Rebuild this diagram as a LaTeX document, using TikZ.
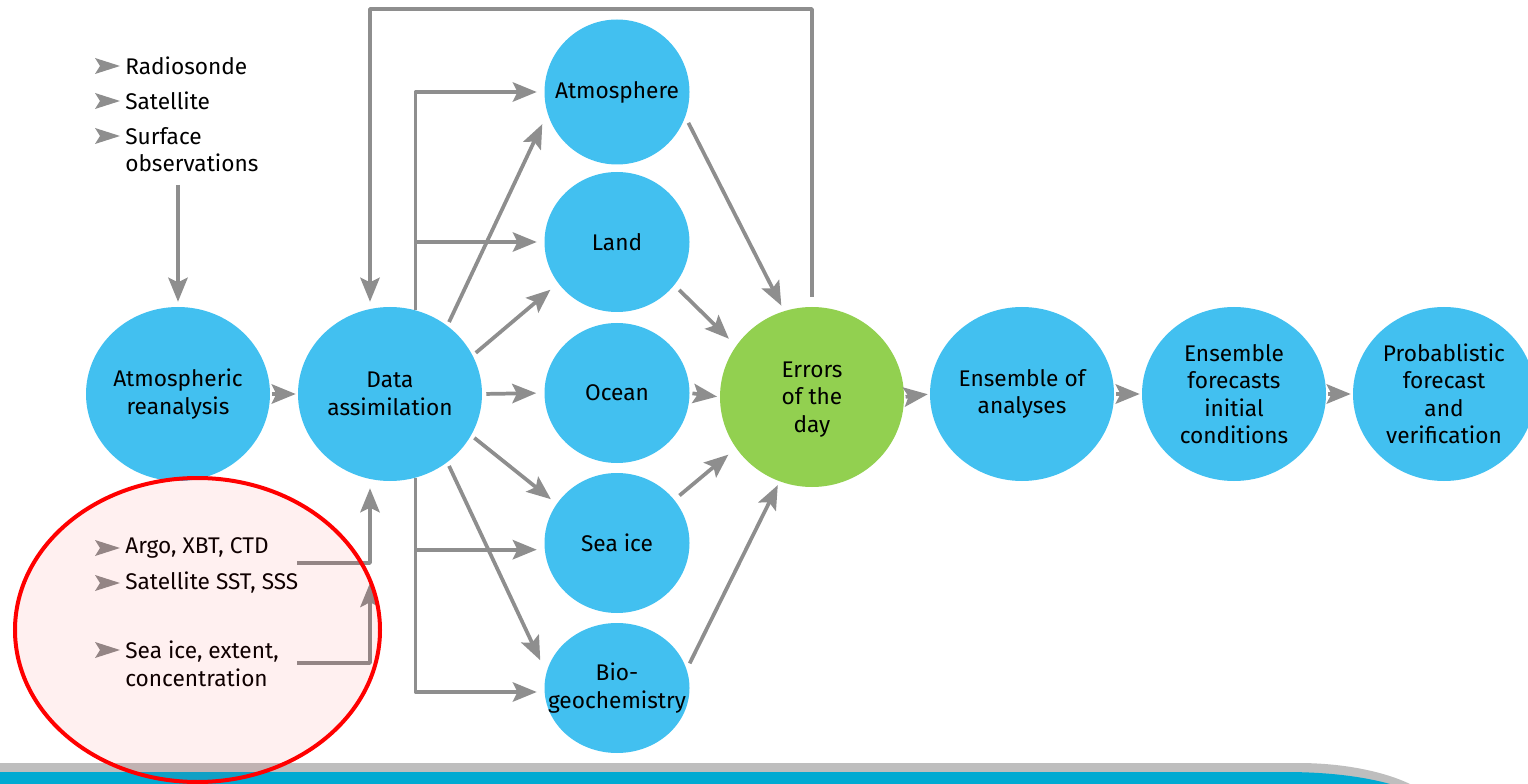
\documentclass[tikz,border=0pt]{standalone}
\usepackage{fontspec}
\setmainfont{Fira Sans}
\usetikzlibrary{arrows.meta,shapes.geometric,calc}
\definecolor{cblue}{HTML}{42C0F0}
\definecolor{cgreen}{HTML}{92D050}
\definecolor{agray}{HTML}{8E8E8E}
\definecolor{sgray}{HTML}{BEBEBE}
\definecolor{sblue}{HTML}{00AAD2}
\newcommand\bul[1]{\fill[agray] (#1) ++(-5,0) -- ++(-25,-8) -- ++(5,8) -- ++(-5,8) -- cycle;}
\begin{document}
\begin{tikzpicture}[x=0.75pt,y=-0.75pt,
  every node/.style={font=\fontsize{17}{20.6}\selectfont},
  bub/.style={ellipse, fill=cblue, inner xsep=-15pt, inner ysep=0pt, align=center},
  big/.style={bub, minimum width=138pt, minimum height=130.5pt},
  small/.style={bub, minimum width=108.75pt, minimum height=105pt},
  arr/.style={draw=agray, line width=2.8pt, line join=round, -{Stealth[length=18pt,width=14.5pt,inset=3.5pt]}},
  item/.style={anchor=west, align=left, inner sep=0pt},
]
\useasboundingbox (0,0) rectangle (1528,784);
% bottom stripe
\fill[sgray] (0,763) -- (1298,763) .. controls (1345,763) and (1385,772) .. (1410,784) -- (0,784) -- cycle;
\fill[sblue] (0,772) -- (1285,772) .. controls (1330,772) and (1365,777) .. (1390,784) -- (0,784) -- cycle;

% circles
\node[big] (ar) at (178,394) {Atmospheric\\reanalysis};
\node[big] (da) at (390,394) {Data\\assimilation};
\node[small, minimum height=108.75pt] (atm) at (617,92) {Atmosphere};
\node[small] (land) at (617,242) {Land};
\node[small] (ocean) at (617,393) {Ocean};
\node[small] (seaice) at (617,543) {Sea ice};
\node[small, minimum height=97.5pt] (bio) at (617,688) {Bio-\\geochemistry};
\node[big, fill=cgreen, minimum height=135pt] (err) at (812,397) {\vphantom{E}\\[-17pt]Errors\\of the\\day};
\node[big] (ens) at (1022,394) {Ensemble of\\analyses};
\node[big] (ensf) at (1234,394) {Ensemble\\forecasts\\initial\\conditions};
\node[big, minimum width=136.5pt] (prob) at (1444,394) {Probablistic\\forecast\\and\\verification};

% observation lists
\node[item] (oR) at (125,66) {Radiosonde};
\node[item] (oS) at (125,101) {Satellite};
\node[item] (oF) at (125,149.5) {Surface\\observations};
\node[item] (wA) at (125,548) {Argo, XBT, CTD};
\node[item] (wS) at (125,583) {Satellite SST, SSS};
\node[item] (wI) at (125,664) {Sea ice, extent,\\concentration};
\bul{125,66}
\bul{125,101}
\bul{125,136}
\bul{125,548}
\bul{125,583}
\bul{125,650}

% coordinates for free ends and corners
\coordinate (obsend) at (178,185);
\coordinate (tr) at (812,9);
\coordinate (tl) at (370,9);
\coordinate (o1) at (297,563);
\coordinate (o2) at (297,663);
\coordinate (j) at (370,563);

% connectors
\draw[arr, shorten >=3.75pt] (obsend) -- (ar.north);
\draw[arr, shorten <=1.5pt, shorten >=1.5pt] (ar.east) -- (da.west);
\draw[arr, shorten <=7.5pt, shorten >=3.75pt] (err.north) -- (tr) -- (tl) -- (tl |- da.north);
\draw[arr, shorten >=5.25pt] (o1) -- (j) -- (j |- da.south);
\draw[arr, shorten >=15pt] (o2) -| (j);

\draw[arr, shorten >=5.6pt] (da.73.4) |- (atm.west);
\draw[arr, shorten >=5.6pt] (da.73.4) |- (land.west);
\draw[arr, shorten >=5.6pt] (da.-73.4) |- ([yshift=-5pt]seaice.west);
\draw[arr, shorten >=5.6pt] (da.-73.4) |- ([yshift=-3pt]bio.west);

\draw[arr, shorten <=3pt, shorten >=9pt] (da.50) -- (atm.197.5);
\draw[arr, shorten <=3pt, shorten >=7.5pt] (da.25.5) -- (land.215.5);
\draw[arr, shorten <=3pt, shorten >=6pt] (da.east) -- (ocean.west);
\draw[arr, shorten <=3pt, shorten >=5.5pt] (da.-27) -- (seaice.147.5);
\draw[arr, shorten <=3pt, shorten >=10.5pt] (da.-50) -- (bio.168.3);

\draw[arr, shorten <=5pt, shorten >=4.5pt] (atm.-20.1) -- (err.108.3);
\draw[arr, shorten <=5pt, shorten >=7.5pt] (land.-37.1) -- (err.146);
\draw[arr, shorten <=2pt, shorten >=2pt] (ocean.east) -- (err.west);
\draw[arr, shorten <=5pt, shorten >=7.5pt] (seaice.37.1) -- (err.214);
\draw[arr, shorten <=5pt, shorten >=3pt] (bio.15.2) -- (err.249.7);

\draw[arr, shorten <=1pt, shorten >=1.5pt] (err.east) -- (ens.west);
\draw[arr, shorten <=1.5pt, shorten >=1.5pt] (ens.east) -- (ensf.west);
\draw[arr, shorten <=1.5pt, shorten >=1.5pt] (ensf.east) -- (prob.west);

% red highlight
\draw[red, line width=3pt, fill=red, fill opacity=0.06] (197.5,630) ellipse [x radius=182.5, y radius=152];
\end{tikzpicture}
\end{document}
